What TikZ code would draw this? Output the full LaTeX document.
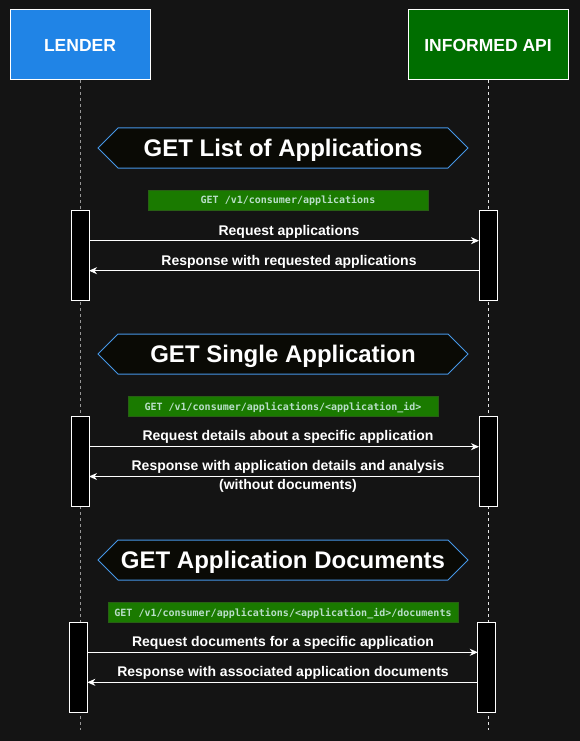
\documentclass[tikz,border=0pt]{standalone}
\usepackage{fontspec}
\setmainfont{Liberation Sans}
\newfontfamily\codefont{DejaVu Sans Mono}
\usetikzlibrary{arrows.meta,backgrounds}
\definecolor{bgc}{RGB}{20,20,20}
\definecolor{lenderblue}{RGB}{32,132,230}
\definecolor{apigreen}{RGB}{0,110,0}
\definecolor{codefill}{RGB}{26,122,0}
\definecolor{codeborder}{RGB}{40,95,20}
\definecolor{codetext}{RGB}{185,222,200}
\definecolor{hexfill}{RGB}{10,10,5}
\definecolor{hexborder}{RGB}{70,150,230}
\definecolor{lifegray}{RGB}{150,150,150}
\definecolor{lifewhite}{RGB}{230,230,230}
\begin{document}
\begin{tikzpicture}[x=1pt,y=-1pt,
  every node/.style={inner sep=0pt, outer sep=0pt},
  actor/.style={draw=white, line width=1pt, text=white, minimum height=70pt,
    font=\fontsize{17.5}{20}\selectfont\bfseries},
  actbar/.style={draw=white, fill=black, line width=1pt, minimum width=18pt, minimum height=90pt},
  lifeline/.style={line width=1pt, dash pattern=on 3pt off 3pt},
  msg/.style={draw=white, line width=1pt, -{Stealth[length=8pt,width=7pt,inset=2.5pt]}},
  msglabel/.style={anchor=base, text=white, font=\fontsize{14}{20}\selectfont\bfseries},
  hexnode/.style={minimum width=330pt, minimum height=40pt, text=white,
    text height=16pt, text depth=0pt, font=\fontsize{24}{28}\selectfont\bfseries},
  hexline/.style={draw=hexborder, fill=hexfill, line width=1pt},
  codebox/.style={draw=codeborder, fill=codefill, line width=1pt, minimum height=20pt,
    text=codetext, text height=7pt, text depth=0pt, font=\codefont\bfseries\fontsize{10}{12}\selectfont}
]
\begin{scope}[on background layer]
  \fill[bgc] (0,0) rectangle (580,741);
\end{scope}
\useasboundingbox (0,0) rectangle (580,741);

% actors
\node[actor, fill=lenderblue, minimum width=140pt] (lender) at (80,45) {LENDER};
\node[actor, fill=apigreen, minimum width=160pt] (api) at (488,45) {INFORMED API};
\coordinate (lendEnd) at (80,730);
\coordinate (apiEnd) at (488,730);
\draw[lifeline, lifegray] (lender.south) -- (lendEnd);
\draw[lifeline, lifewhite] (api.south) -- (apiEnd);

% ---------- section 1 ----------
\node[hexnode] (h1) at (283,148) {GET List of Applications};
\begin{scope}[on background layer]
  \draw[hexline] ([xshift=-20pt]h1.west) -- (h1.north west) -- (h1.north east)
    -- ([xshift=20pt]h1.east) -- (h1.south east) -- (h1.south west) -- cycle;
\end{scope}
\node[codebox, minimum width=280pt] (c1) at (288,200) {GET /v1/consumer/applications};
\node[actbar] (L1) at (80,255) {};
\node[actbar] (R1) at (488,255) {};
\draw[msg] (L1.east |- 0,240.7) -- (R1.west |- 0,240.7);
\node[msglabel] (m1) at (289,235) {Request applications};
\draw[msg] (R1.west |- 0,270.7) -- (L1.east |- 0,270.7);
\node[msglabel] (m2) at (289,265) {Response with requested applications};

% ---------- section 2 ----------
\node[hexnode] (h2) at (283,354) {GET Single Application};
\begin{scope}[on background layer]
  \draw[hexline] ([xshift=-20pt]h2.west) -- (h2.north west) -- (h2.north east)
    -- ([xshift=20pt]h2.east) -- (h2.south east) -- (h2.south west) -- cycle;
\end{scope}
\node[codebox, minimum width=310pt] (c2) at (283,406.5) {GET /v1/consumer/applications/<application\_id>};
\node[actbar] (L2) at (80,461.5) {};
\node[actbar] (R2) at (488,461.5) {};
\draw[msg] (L2.east |- 0,446.7) -- (R2.west |- 0,446.7);
\node[msglabel] (m3) at (288,440.5) {Request details about a specific application};
\draw[msg] (R2.west |- 0,476.5) -- (L2.east |- 0,476.5);
\node[msglabel] (m4) at (288,470.5) {Response with application details and analysis};
\node[msglabel] (m4b) at (288,489.5) {(without documents)};

% ---------- section 3 ----------
\node[hexnode] (h3) at (283,560) {GET Application Documents};
\begin{scope}[on background layer]
  \draw[hexline] ([xshift=-20pt]h3.west) -- (h3.north west) -- (h3.north east)
    -- ([xshift=20pt]h3.east) -- (h3.south east) -- (h3.south west) -- cycle;
\end{scope}
\node[codebox, minimum width=350pt] (c3) at (283,612.5) {GET /v1/consumer/applications/<application\_id>/documents};
\node[actbar] (L3) at (78.3,667.3) {};
\node[actbar] (R3) at (486.8,667.3) {};
\draw[msg] (L3.east |- 0,652.3) -- (R3.west |- 0,652.3);
\node[msglabel] (m5) at (283,646.7) {Request documents for a specific application};
\draw[msg] (R3.west |- 0,682.3) -- (L3.east |- 0,682.3);
\node[msglabel] (m6) at (283,676.7) {Response with associated application documents};
\end{tikzpicture}
\end{document}
